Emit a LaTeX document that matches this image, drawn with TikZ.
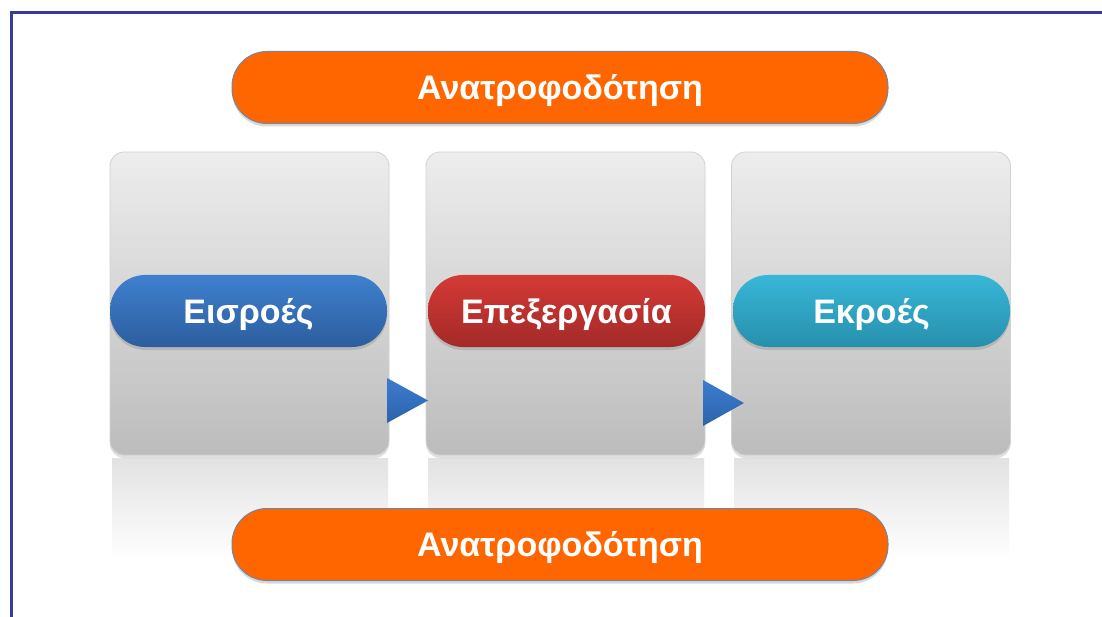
\documentclass[tikz,border=0pt]{standalone}
\usepackage{fontspec}
\setmainfont{Liberation Sans}
\usetikzlibrary{shadows}
\definecolor{frameblue}{HTML}{3A3A9E}
\definecolor{orangeF}{HTML}{FF6600}
\definecolor{pillrim}{HTML}{6E86A8}
\definecolor{boxtop}{HTML}{EDEDED}
\definecolor{boxbot}{HTML}{BCBCBC}
\definecolor{boxrim}{HTML}{D2D2D2}
\definecolor{bluetop}{HTML}{3F80CF}
\definecolor{bluebot}{HTML}{2D5E9E}
\definecolor{redtop}{HTML}{D43A36}
\definecolor{redbot}{HTML}{A32A28}
\definecolor{cyantop}{HTML}{38B6D8}
\definecolor{cyanbot}{HTML}{2790AC}
\definecolor{tritop}{HTML}{3C7DD0}
\definecolor{tribot}{HTML}{2D62AA}
\definecolor{refl}{HTML}{E2E2E2}
\tikzset{
  stagebox/.style={rounded corners=14pt, draw=boxrim, line width=0.8pt,
    top color=boxtop, bottom color=boxbot, minimum width=279pt, minimum height=303pt,
    inner sep=0pt, drop shadow={shadow xshift=0pt, shadow yshift=-3pt, opacity=0.25}},
  reflbox/.style={top color=refl, bottom color=white, draw=none},
  pill/.style={rounded corners=35pt, minimum height=72pt, inner sep=0pt,
    text=white, font=\fontsize{34}{40}\selectfont\bfseries,
    text height=24.5pt, text depth=0pt,
    drop shadow={shadow xshift=0pt, shadow yshift=-3pt, opacity=0.3}},
  fbpill/.style={pill, fill=orangeF, draw=pillrim, line width=1pt, minimum width=656pt},
  stagepill/.style={pill, draw=none, minimum width=277pt},
  tri/.style={top color=tritop, bottom color=tribot, draw=none}
}
\begin{document}
\begin{tikzpicture}[x=1pt,y=-1pt]
\useasboundingbox (0,0) rectangle (1102,617);
\fill[white] (0,0) rectangle (1102,617);
% reflections
\shade[reflbox] (112,458) rectangle (388,560);
\shade[reflbox] (428,458) rectangle (704,560);
\shade[reflbox] (734,458) rectangle (1009,560);
% stage boxes
\node[stagebox] (b1) at (249.5,303.5) {};
\node[stagebox] (b2) at (565.5,303.5) {};
\node[stagebox] (b3) at (871,303.5) {};
% arrows between boxes
\shade[tri] (387,378) -- (428,400.5) -- (387,423) -- cycle;
\shade[tri] (703,380) -- (744,403) -- (703,426) -- cycle;
% stage pills
\node[stagepill, top color=bluetop, bottom color=bluebot] (p1) at (248.5,311) {Εισροές};
\node[stagepill, top color=redtop, bottom color=redbot] (p2) at (566.5,311) {Επεξεργασία};
\node[stagepill, top color=cyantop, bottom color=cyanbot] (p3) at (871.5,311) {Εκροές};
% feedback pills
\node[fbpill] (ft) at (560,87.5) {Ανατροφοδότηση};
\node[fbpill] (fb) at (560,544.5) {Ανατροφοδότηση};
% frame
\draw[frameblue, line width=3pt] (11,617) -- (11,12.5) -- (1102,12.5);
\end{tikzpicture}
\end{document}
